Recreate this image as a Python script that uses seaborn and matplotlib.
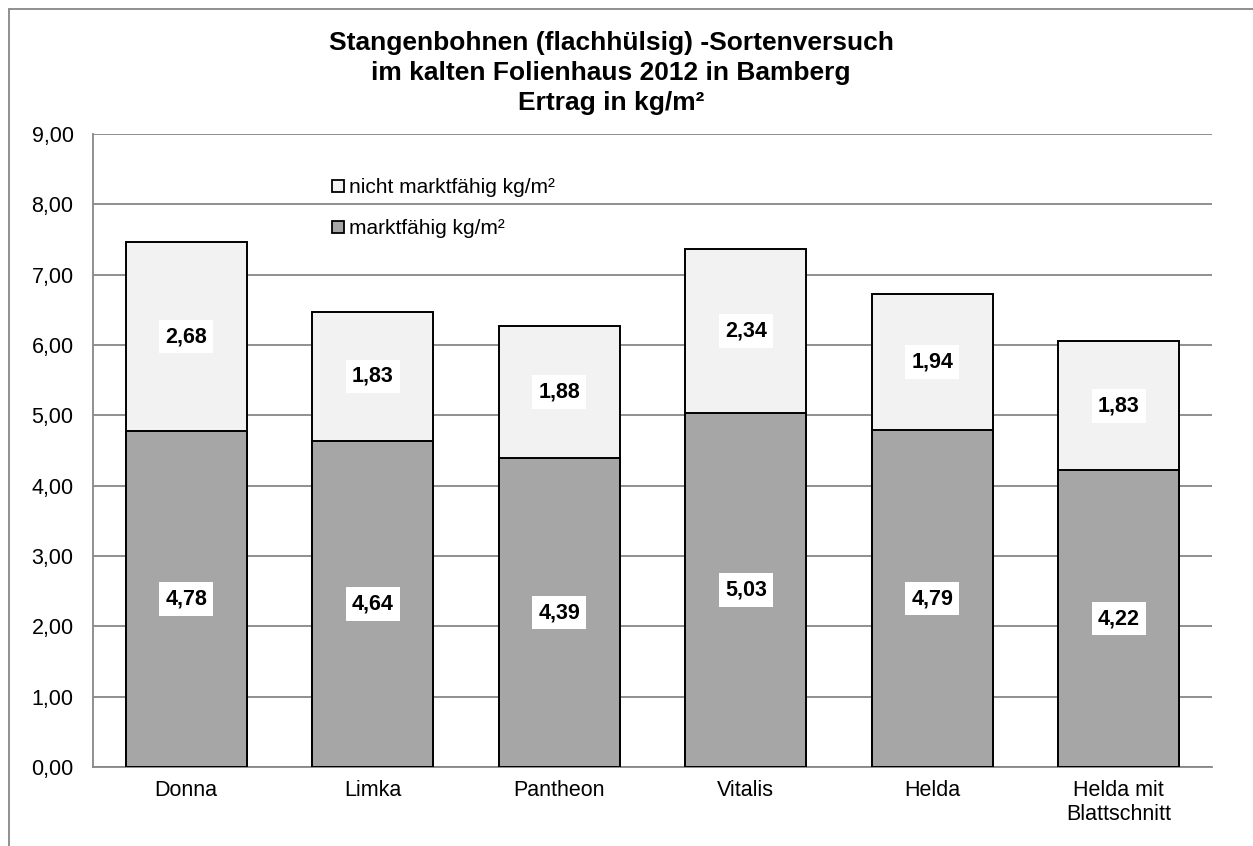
import matplotlib
matplotlib.use("Agg")
import matplotlib.pyplot as plt
import seaborn as sns
import pandas as pd
from matplotlib.patches import Patch
from matplotlib.lines import Line2D

categories = ["Donna", "Limka", "Pantheon", "Vitalis", "Helda", "Helda mit\nBlattschnitt"]
marktfaehig = [4.78, 4.64, 4.39, 5.03, 4.79, 4.22]
nicht_marktfaehig = [2.68, 1.83, 1.88, 2.34, 1.94, 1.83]
yticks = [0, 1, 2, 3, 4, 5, 6, 7, 8, 9]
title = "Stangenbohnen (flachhülsig) -Sortenversuch\nim kalten Folienhaus 2012 in Bamberg\nErtrag in kg/m²"
legend_labels = ["nicht marktfähig kg/m²", "marktfähig kg/m²"]

sns.set_theme(style="white")
plt.rcParams["font.family"] = ["Liberation Sans", "DejaVu Sans"]
plt.rcParams["text.color"] = "black"
plt.rcParams["xtick.color"] = "black"
plt.rcParams["ytick.color"] = "black"
plt.rcParams["axes.labelcolor"] = "black"

df = pd.DataFrame({
    "Sorte": categories,
    "markt": marktfaehig,
    "nicht": nicht_marktfaehig,
})
df["total"] = df["markt"] + df["nicht"]

W, H = 1253, 846
fig = plt.figure(figsize=(W / 100, H / 100), dpi=100)
L, R, T, B = 93, 1212, 134, 767
ax = fig.add_axes([L / W, 1 - B / H, (R - L) / W, (B - T) / H])

light = "#f2f2f2"
dark = "#a6a6a6"
gridc = "#878787"
sns.barplot(data=df, x="Sorte", y="total", color=light, edgecolor="black",
            linewidth=1.4, width=0.65, saturation=1, ax=ax, zorder=3)
sns.barplot(data=df, x="Sorte", y="markt", color=dark, edgecolor="black",
            linewidth=1.4, width=0.65, saturation=1, ax=ax, zorder=4)

ax.set_ylim(0, 9)
ax.set_xlim(-0.5, len(categories) - 0.5)
ax.set_yticks(yticks)
ax.set_yticklabels([f"{v:.2f}".replace(".", ",") for v in yticks], fontsize=15.5)
ax.tick_params(axis="x", labelsize=15.5, length=0, pad=9, colors="black")
ax.tick_params(axis="y", length=0, pad=14, colors="black")
ax.set_xlabel("")
ax.set_ylabel("")
ax.yaxis.grid(True, color=gridc, linewidth=1.3, zorder=0)
ax.set_axisbelow(True)
for s in ["top", "right"]:
    ax.spines[s].set_visible(False)
for s in ["bottom", "left"]:
    ax.spines[s].set_color(gridc)
    ax.spines[s].set_linewidth(1.3)

for i, (m, n) in enumerate(zip(marktfaehig, nicht_marktfaehig)):
    ax.text(i, m / 2, f"{m:.2f}".replace(".", ","), ha="center", va="center",
            fontsize=15.5, fontweight="bold", color="black", zorder=6,
            bbox=dict(facecolor="white", edgecolor="none", pad=4.5))
    ax.text(i, m + n / 2, f"{n:.2f}".replace(".", ","), ha="center", va="center",
            fontsize=15.5, fontweight="bold", color="black", zorder=6,
            bbox=dict(facecolor="white", edgecolor="none", pad=4.5))

handles = [Patch(facecolor=light, edgecolor="black", linewidth=1.3),
           Patch(facecolor=dark, edgecolor="black", linewidth=1.3)]
leg = ax.legend(handles, legend_labels, loc="upper left",
                bbox_to_anchor=((322 - L) / (R - L), (B - 168) / (B - T)), frameon=False,
                fontsize=15, handlelength=0.55, handleheight=0.55,
                handletextpad=0.25, labelspacing=1.05, borderpad=0)
for t in leg.get_texts():
    t.set_color("black")
leg.set_zorder(7)

fig.text(611 / W, 1 - 73 / H, title, ha="center", va="center",
         fontsize=19, fontweight="bold", linespacing=1.33, color="black")

# figure frame (top and left edges visible)
fig.add_artist(Line2D([9 / W, 9 / W], [0, 1 - 9 / H], transform=fig.transFigure,
                      color=gridc, linewidth=1.3))
fig.add_artist(Line2D([9 / W, 1], [1 - 9 / H, 1 - 9 / H], transform=fig.transFigure,
                      color=gridc, linewidth=1.3))

fig.savefig("out.png", dpi=100)
